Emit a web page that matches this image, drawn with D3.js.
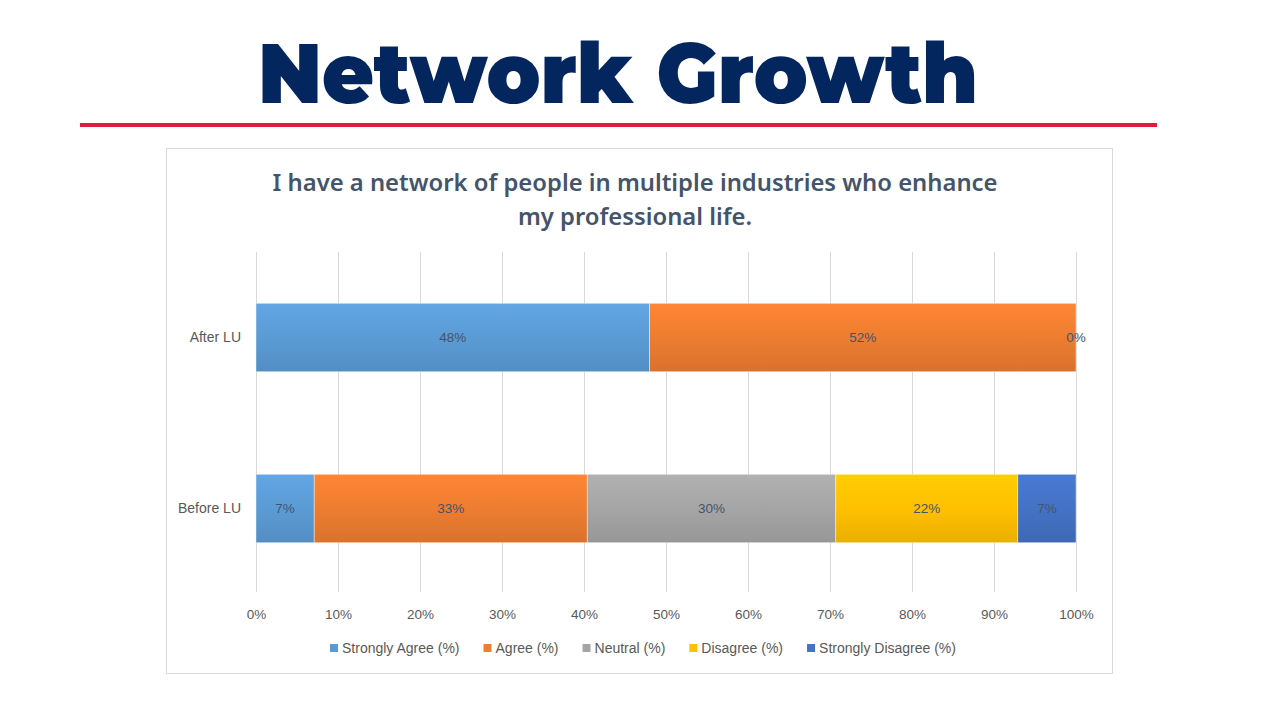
<!DOCTYPE html>
<html lang="en">
<head>
<meta charset="UTF-8">
<title>Network Growth</title>
<script src="https://d3js.org/d3.v7.min.js"></script>
<style>
  body { margin: 0; background: #fff; }
  svg { display: block; }
  .axis text { font-family: "Liberation Sans", Arial, sans-serif; font-size: 13.5px; fill: #595959; }
  .axis path, .axis line { display: none; }
</style>
</head>
<body>
<svg width="1280" height="720"></svg>
<script>
// data (shares of each response, 100% stacked)
const categories = ["After LU", "Before LU"];
const seriesNames = ["Strongly Agree (%)", "Agree (%)", "Neutral (%)", "Disagree (%)", "Strongly Disagree (%)"];
const afterValues = [48, 52, 0, 0, 0];
const beforeValues = [7.1, 33.3, 30.3, 22.2, 7.1];
const seriesColors = ["#5b9bd5", "#ed7d31", "#a5a5a5", "#ffc000", "#4472c4"];
const xTicks = [0, 10, 20, 30, 40, 50, 60, 70, 80, 90, 100];

const svg = d3.select("svg");
const font = "'Liberation Sans', Arial, sans-serif";

// page heading + red rule
svg.append("text")
    .attr("x", 618).attr("y", 103)
    .attr("text-anchor", "middle")
    .attr("textLength", 720).attr("lengthAdjust", "spacingAndGlyphs")
    .style("font-family", "'Montserrat', 'Lato', 'Open Sans', 'DejaVu Sans', sans-serif")
    .style("font-weight", 900).style("font-size", "84px")
    .style("fill", "#03265f")
    .text("Network Growth");

svg.append("rect")
    .attr("x", 80).attr("y", 123).attr("width", 1077).attr("height", 4)
    .attr("fill", "#e11b3c");

// chart frame
svg.append("rect")
    .attr("x", 166.5).attr("y", 148.5).attr("width", 946).attr("height", 525)
    .attr("fill", "#fff").attr("stroke", "#d9d9d9");

const titleLines = ["I have a network of people in multiple industries who enhance", "my professional life."];
const titleLens = [725, 234];
svg.append("g").selectAll("text").data(titleLines).join("text")
    .attr("x", 635).attr("y", (d, i) => 191 + i * 34)
    .attr("text-anchor", "middle")
    .attr("textLength", (d, i) => titleLens[i]).attr("lengthAdjust", "spacingAndGlyphs")
    .style("font-family", "'Noto Sans', 'Open Sans', sans-serif")
    .style("font-weight", 600).style("font-size", "24px")
    .style("fill", "#44546a")
    .text(d => d);

// scales
const x = d3.scaleLinear().domain([0, 100]).range([256, 1076]);
const y = d3.scaleBand().domain(categories).range([252, 594]).paddingInner(0.6).paddingOuter(0.3);

// gridlines
svg.append("g").selectAll("line").data(xTicks).join("line")
    .attr("x1", d => x(d) + 0.5).attr("x2", d => x(d) + 0.5)
    .attr("y1", 252).attr("y2", 592)
    .attr("stroke", "#d9d9d9").attr("stroke-width", 1);

// axes
svg.append("g").attr("class", "axis")
    .attr("transform", "translate(0,599)")
    .call(d3.axisBottom(x).tickValues(xTicks).tickFormat(d => d + "%").tickSize(0).tickPadding(10));

svg.append("g").attr("class", "axis")
    .attr("transform", "translate(241,0)")
    .call(d3.axisLeft(y).tickSize(0).tickPadding(0))
    .selectAll("text").style("font-size", "14px").attr("dy", "0.32em");

// gradients for bar fills
const defs = svg.append("defs");
seriesColors.forEach((c, i) => {
  const g = defs.append("linearGradient").attr("id", "grad" + i)
      .attr("x1", 0).attr("x2", 0).attr("y1", 0).attr("y2", 1);
  g.append("stop").attr("offset", "0%").attr("stop-color", d3.color(c).brighter(0.2));
  g.append("stop").attr("offset", "50%").attr("stop-color", c);
  g.append("stop").attr("offset", "100%").attr("stop-color", d3.color(c).darker(0.25));
});

// stacked bars
const rows = [afterValues, beforeValues].map((vals, r) => {
  const o = { cat: categories[r] };
  seriesNames.forEach((s, i) => { o[s] = vals[i]; });
  return o;
});
const stacked = d3.stack().keys(seriesNames)(rows);

const layers = svg.append("g").selectAll("g").data(stacked).join("g")
    .attr("fill", (d, i) => "url(#grad" + i + ")");

layers.selectAll("rect").data(d => d.map(p => ({ p, key: d.key }))).join("rect")
    .attr("x", d => x(d.p[0]))
    .attr("y", d => y(d.p.data.cat))
    .attr("width", d => x(d.p[1]) - x(d.p[0]))
    .attr("height", y.bandwidth())
    .attr("stroke", "#ffffff").attr("stroke-opacity", 0.5).attr("stroke-width", 0.8);

// data labels (zero-width segments at the same spot share one label)
const seen = new Set();
const labels = [];
stacked.forEach(layer => layer.forEach(p => {
  const k = p.data.cat + "|" + p[0] + "|" + p[1];
  if (seen.has(k)) return;
  seen.add(k);
  labels.push(p);
}));
svg.append("g").selectAll("text").data(labels).join("text")
    .attr("x", d => (x(d[0]) + x(d[1])) / 2)
    .attr("y", d => y(d.data.cat) + y.bandwidth() / 2)
    .attr("dy", "0.35em")
    .attr("text-anchor", "middle")
    .style("font-family", font).style("font-size", "13.5px")
    .style("fill", "#44546a")
    .text(d => Math.round(d[1] - d[0]) + "%");

// legend
const legend = svg.append("g").attr("transform", "translate(0,648)");
const items = legend.selectAll("g").data(seriesNames).join("g");
items.append("rect")
    .attr("y", -4).attr("width", 8).attr("height", 8)
    .attr("fill", (d, i) => seriesColors[i]);
items.append("text")
    .attr("x", 12).attr("dy", "0.35em")
    .style("font-family", font).style("font-size", "14px")
    .style("fill", "#595959")
    .text(d => d);
let widths = [];
items.each(function () { widths.push(this.getBBox().width); });
const gap = 24;
const total = d3.sum(widths) + gap * (widths.length - 1);
let cx = 643 - total / 2;
items.attr("transform", (d, i) => {
  const t = "translate(" + cx + ",0)";
  cx += widths[i] + gap;
  return t;
});
</script>
</body>
</html>
